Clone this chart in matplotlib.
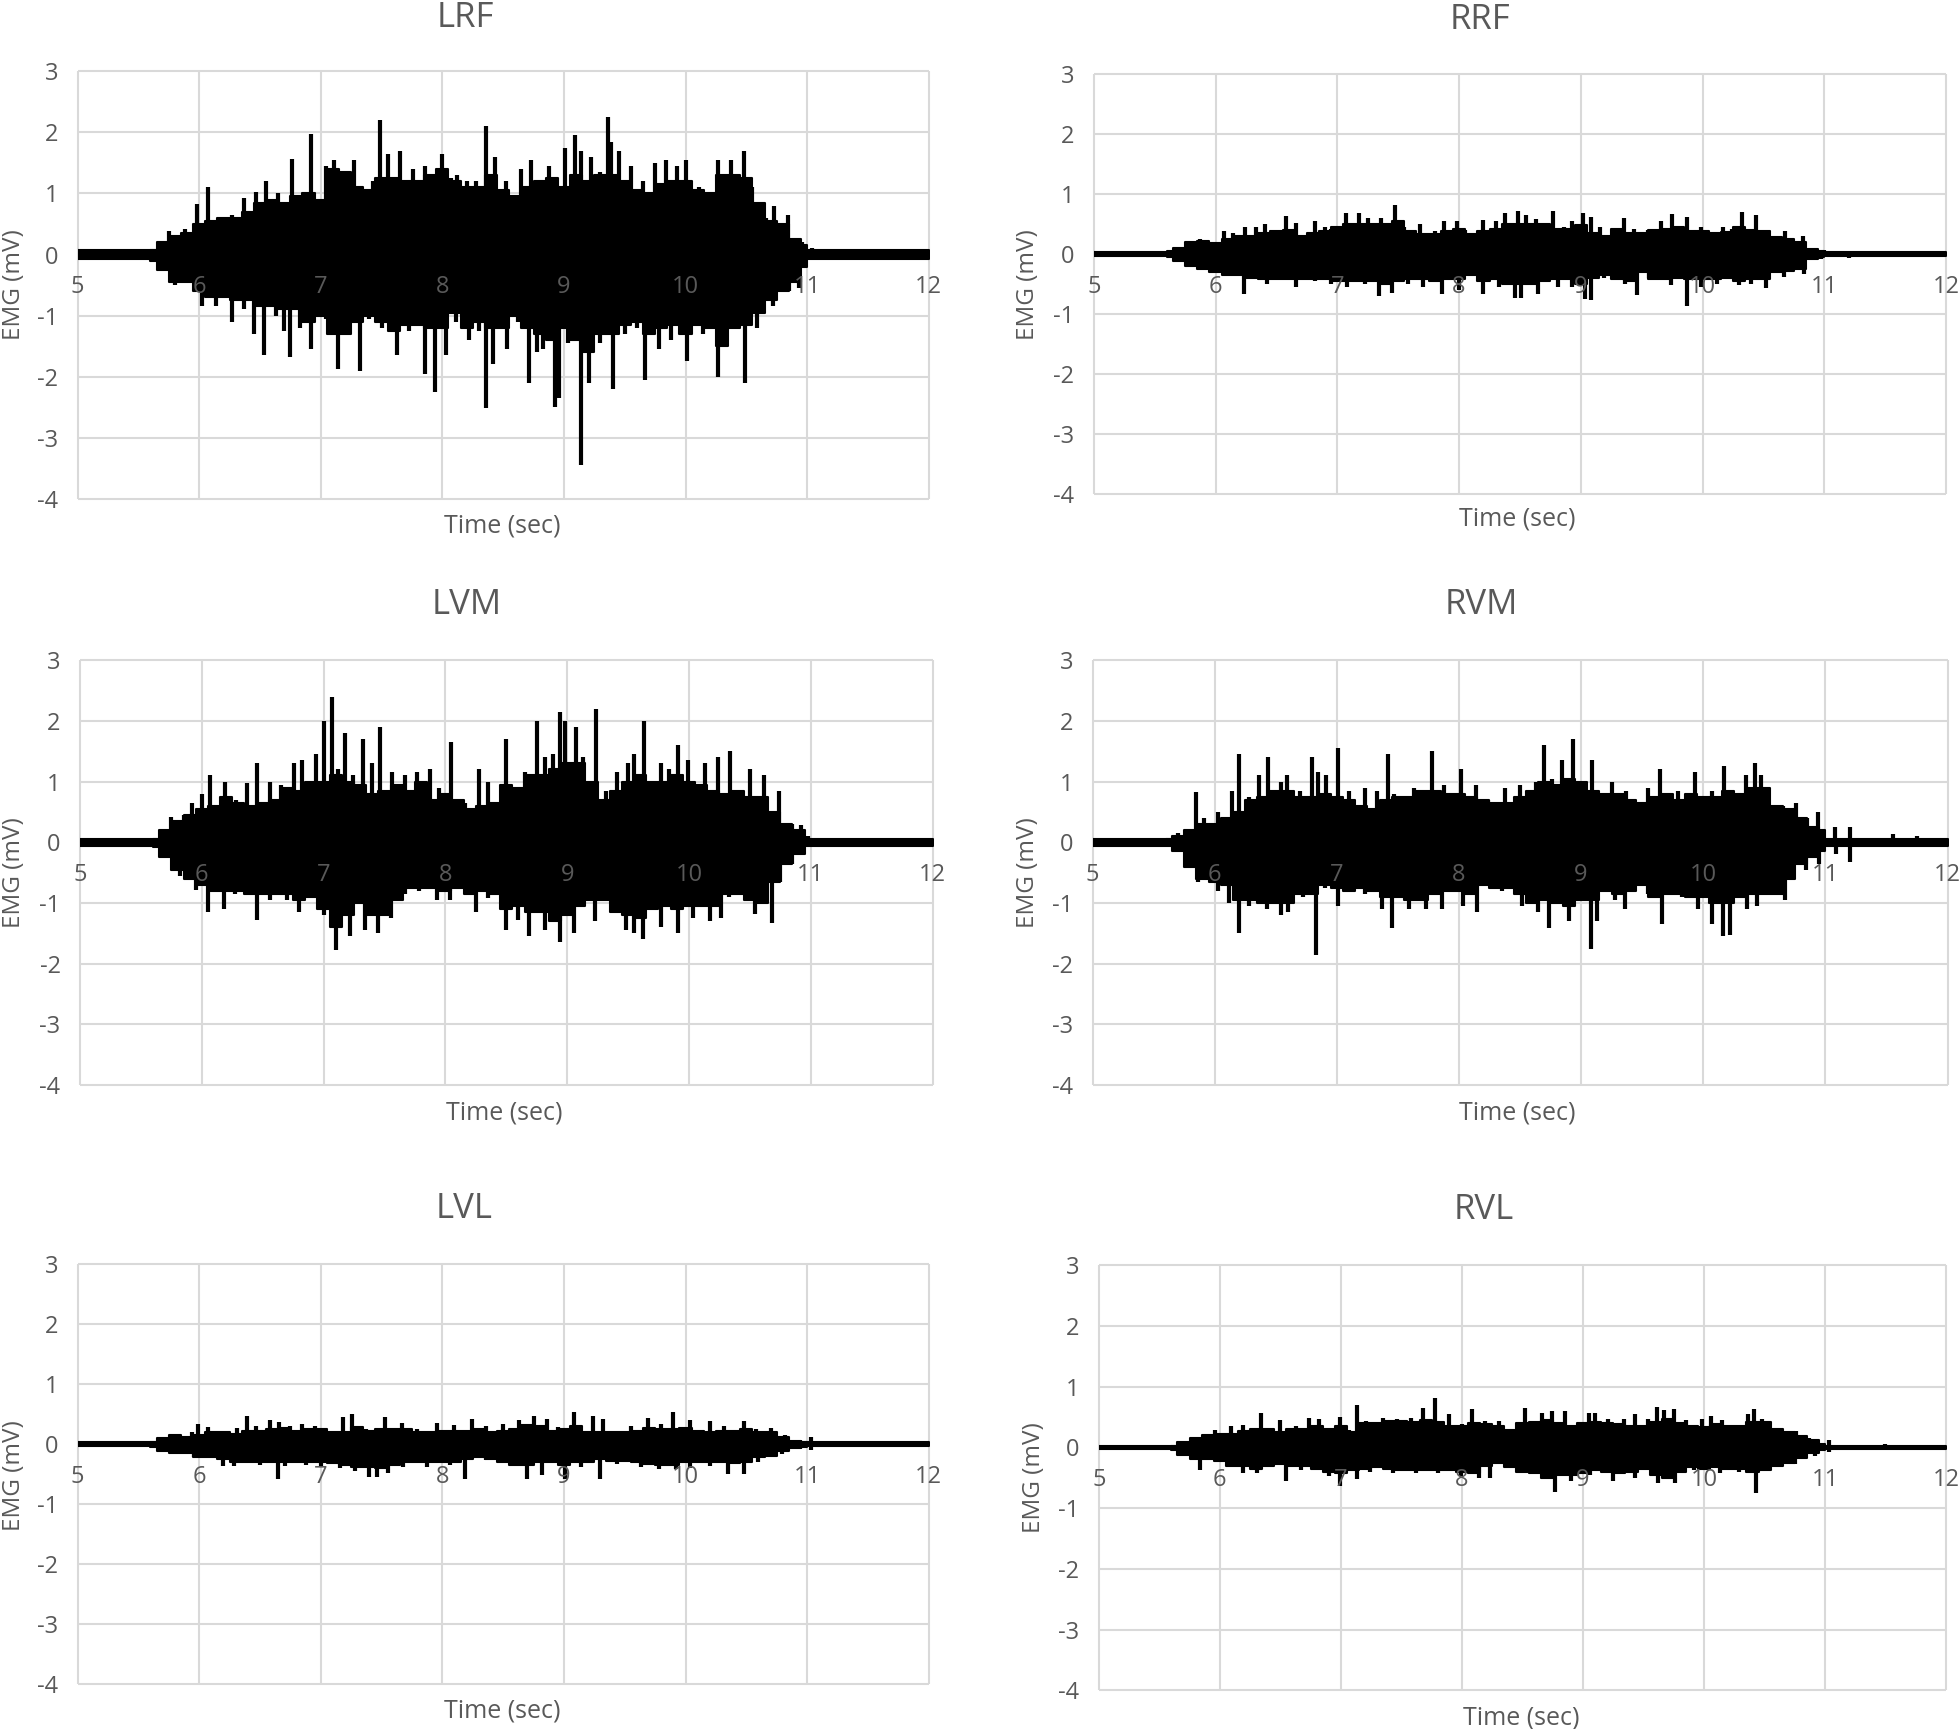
import numpy as np
import matplotlib
matplotlib.use("Agg")
import matplotlib.pyplot as plt

plt.rcParams['font.family'] = ['Open Sans', 'DejaVu Sans']

x_ticks = [5, 6, 7, 8, 9, 10, 11, 12]
y_ticks = [3, 2, 1, 0, -1, -2, -3, -4]
y_tick_labels = ['3', '2', '1', '0', '-1', '-2', '-3', '-4']
x_title = "Time (sec)"
y_title = "EMG (mV)"

# solid part of the trace is read every 0.1 s from 5.6 to 11.0
body_t = [5.6, 5.7, 5.8, 5.9, 6.0, 6.1, 6.2, 6.3, 6.4, 6.5,
          6.6, 6.7, 6.8, 6.9, 7.0, 7.1, 7.2, 7.3, 7.4, 7.5,
          7.6, 7.7, 7.8, 7.9, 8.0, 8.1, 8.2, 8.3, 8.4, 8.5,
          8.6, 8.7, 8.8, 8.9, 9.0, 9.1, 9.2, 9.3, 9.4, 9.5,
          9.6, 9.7, 9.8, 9.9, 10.0, 10.1, 10.2, 10.3, 10.4, 10.5,
          10.6, 10.7, 10.8, 10.9, 11.0]

# half height of the quiet trace before and after the burst
quiet = [.07, .03, .06, .06, .03, .025]

# spikes as (sec, mV)
lrf_up = [(5.75,.38),(5.88,.42),(5.98,.82),(6.07,1.1),(6.16,.6),(6.27,.65),(6.37,.92),(6.47,1.03),(6.55,1.2),(6.65,1.0),
          (6.76,1.57),(6.92,1.98),(7.04,1.45),(7.11,1.55),(7.18,1.3),(7.27,1.55),(7.43,1.2),(7.49,2.2),(7.55,1.65),(7.65,1.7),
          (7.76,1.4),(7.86,1.45),(8.0,1.65),(8.07,1.25),(8.12,1.3),(8.2,1.2),(8.28,1.2),(8.36,2.1),(8.43,1.6),(8.52,1.2),
          (8.65,1.4),(8.73,1.55),(8.88,1.45),(9.01,1.75),(9.09,1.95),(9.14,1.7),(9.22,1.6),(9.3,1.35),(9.36,2.25),(9.39,1.85),
          (9.45,1.7),(9.55,1.45),(9.65,1.2),(9.75,1.5),(9.84,1.55),(9.93,1.45),(10.0,1.55),(10.11,1.1),(10.27,1.55),(10.37,1.55),
          (10.48,1.7),(10.55,1.1),(10.6,.8),(10.66,.6),(10.73,.8),(10.84,.65),(10.96,.2),(11.04,.1)]
lrf_lo = [(5.8,-.5),(5.9,-.45),(6.02,-.85),(6.14,-.85),(6.27,-1.1),(6.37,-.9),(6.45,-1.3),(6.53,-1.65),(6.63,-1.0),(6.7,-1.25),
          (6.75,-1.68),(6.83,-1.2),(6.92,-1.55),(7.04,-1.05),(7.14,-1.87),(7.22,-1.15),(7.32,-1.9),(7.4,-1.05),(7.5,-1.2),(7.63,-1.65),
          (7.73,-1.25),(7.86,-1.95),(7.94,-2.25),(8.03,-1.65),(8.11,-1.1),(8.22,-1.4),(8.3,-1.25),(8.36,-2.52),(8.42,-1.8),(8.53,-1.55),
          (8.62,-1.1),(8.71,-2.1),(8.78,-1.6),(8.83,-1.55),(8.93,-2.5),(8.96,-2.35),(9.03,-1.45),(9.14,-3.45),(9.21,-2.1),(9.3,-1.45),
          (9.4,-2.2),(9.5,-1.3),(9.6,-1.2),(9.67,-2.05),(9.78,-1.55),(9.88,-1.4),(10.01,-1.75),(10.14,-1.3),(10.27,-2.0),(10.37,-1.2),
          (10.49,-2.1),(10.59,-1.2),(10.72,-.85),(10.85,-.6),(10.93,-.55)]
lrf_body_up = [.08, .2, .3, .35, .5, .55, .6, .6, .7, .85,
               .9, .85, .95, 1.0, .9, 1.4, 1.35, 1.1, 1.05, 1.25,
               1.25, 1.2, 1.2, 1.3, 1.4, 1.2, 1.1, 1.1, 1.3, 1.05,
               .95, 1.1, 1.2, 1.25, 1.1, 1.3, 1.2, 1.3, 1.3, 1.2,
               1.05, 1.0, 1.15, 1.2, 1.2, 1.05, 1.0, 1.3, 1.3, 1.25,
               .85, .55, .5, .25, .15]
lrf_body_lo = [-.1, -.25, -.45, -.45, -.6, -.7, -.7, -.75, -.75, -.85,
               -.85, -.9, -.9, -1.1, -1.0, -1.3, -1.3, -1.1, -1.0, -1.1,
               -1.25, -1.15, -1.15, -1.2, -1.2, -.95, -1.2, -1.1, -1.2, -1.2,
               -1.0, -1.2, -1.3, -1.4, -1.2, -1.4, -1.6, -1.3, -1.3, -1.15,
               -1.1, -1.3, -1.2, -1.15, -1.3, -1.15, -1.2, -1.5, -1.2, -1.15,
               -.95, -.75, -.6, -.45, -.2]

rrf_up = [(5.87,.25),(5.97,.2),(6.07,.38),(6.14,.35),(6.24,.45),(6.33,.45),(6.41,.5),(6.49,.3),(6.58,.63),(6.66,.52),
          (6.75,.3),(6.82,.55),(6.9,.45),(6.95,.42),(7.07,.68),(7.18,.68),(7.25,.6),(7.36,.6),(7.47,.82),(7.55,.45),
          (7.68,.5),(7.8,.38),(7.88,.55),(7.98,.55),(8.05,.4),(8.2,.57),(8.3,.55),(8.38,.68),(8.48,.72),(8.55,.65),
          (8.63,.58),(8.77,.72),(8.86,.45),(8.93,.55),(9.02,.68),(9.08,.62),(9.16,.45),(9.26,.3),(9.35,.6),(9.44,.42),
          (9.55,.4),(9.66,.55),(9.75,.67),(9.87,.62),(9.99,.45),(10.17,.45),(10.24,.42),(10.32,.7),(10.44,.65),(10.54,.4),
          (10.68,.38),(10.82,.3),(10.9,.1),(11.0,.07)]
rrf_lo = [(5.84,-.22),(6.07,-.35),(6.23,-.67),(6.32,-.4),(6.42,-.5),(6.52,-.4),(6.66,-.55),(6.82,-.45),(6.95,-.5),(7.08,-.55),
          (7.23,-.5),(7.34,-.7),(7.45,-.65),(7.58,-.5),(7.7,-.55),(7.86,-.67),(8.0,-.6),(8.2,-.67),(8.33,-.55),(8.46,-.73),
          (8.51,-.73),(8.65,-.67),(8.81,-.55),(8.93,-.55),(9.03,-.75),(9.08,-.77),(9.19,-.4),(9.36,-.5),(9.46,-.68),(9.56,-.4),
          (9.74,-.52),(9.87,-.87),(9.99,-.55),(10.12,-.5),(10.3,-.52),(10.4,-.5),(10.52,-.57),(10.67,-.38),(10.83,-.33),(10.97,-.08),
          (11.2,-.07)]
rrf_body_up = [.04, .1, .2, .22, .18, .25, .3, .3, .35, .38,
               .4, .3, .35, .38, .45, .5, .5, .5, .5, .55,
               .38, .33, .33, .38, .42, .33, .38, .42, .5, .5,
               .5, .5, .42, .42, .48, .35, .3, .42, .35, .35,
               .4, .42, .45, .38, .38, .35, .36, .45, .4, .38,
               .28, .25, .2, .08, .04]
rrf_body_lo = [-.05, -.12, -.2, -.25, -.3, -.35, -.35, -.4, -.42, -.42,
               -.42, -.42, -.42, -.42, -.45, -.45, -.45, -.45, -.5, -.45,
               -.42, -.42, -.45, -.42, -.42, -.35, -.45, -.42, -.5, -.5,
               -.5, -.45, -.42, -.42, -.5, -.4, -.35, -.42, -.45, -.3,
               -.42, -.42, -.4, -.42, -.42, -.42, -.4, -.45, -.42, -.42,
               -.3, -.28, -.25, -.08, -.05]

lvm_up = [(5.75,.42),(5.85,.45),(5.92,.65),(6.0,.8),(6.07,1.1),(6.19,1.0),(6.28,.7),(6.37,.98),(6.45,1.3),(6.56,1.0),
          (6.65,.95),(6.76,1.3),(6.82,1.35),(6.94,1.45),(7.0,2.0),(7.07,2.4),(7.12,1.2),(7.18,1.8),(7.24,1.1),(7.32,1.7),
          (7.4,1.3),(7.46,1.9),(7.56,1.15),(7.67,1.1),(7.77,1.15),(7.87,1.2),(7.95,.9),(8.05,1.65),(8.16,.65),(8.28,1.2),
          (8.35,1.0),(8.5,1.7),(8.65,1.15),(8.75,2.0),(8.82,1.4),(8.88,1.45),(8.94,2.15),(8.98,2.0),(9.07,1.9),(9.13,1.4),
          (9.24,2.2),(9.32,.85),(9.41,1.15),(9.5,1.3),(9.55,1.45),(9.63,2.0),(9.77,1.3),(9.84,1.2),(9.91,1.6),(9.99,1.35),
          (10.13,1.3),(10.24,1.4),(10.34,1.5),(10.44,.75),(10.5,1.2),(10.62,1.1),(10.74,.85),(10.85,.3),(10.92,.28),(10.98,.1)]
lvm_lo = [(5.82,-.55),(5.95,-.78),(6.05,-1.15),(6.18,-1.1),(6.27,-.85),(6.45,-1.28),(6.56,-.95),(6.7,-.95),(6.8,-1.15),(6.91,-.85),
          (7.0,-1.2),(7.1,-1.78),(7.22,-1.55),(7.34,-1.45),(7.45,-1.5),(7.55,-1.25),(7.67,-.85),(7.78,-.8),(7.93,-.95),(8.04,-.95),
          (8.25,-1.15),(8.35,-.92),(8.5,-1.45),(8.6,-1.28),(8.69,-1.55),(8.82,-1.45),(8.94,-1.65),(9.06,-1.5),(9.23,-1.3),(9.34,-.95),
          (9.48,-1.45),(9.55,-1.5),(9.62,-1.6),(9.77,-1.4),(9.91,-1.5),(10.03,-1.25),(10.17,-1.3),(10.26,-1.25),(10.33,-.9),(10.54,-1.18),
          (10.68,-1.33),(10.75,-.65),(10.85,-.35),(10.94,-.2)]
lvm_body_up = [.06, .2, .35, .45, .55, .6, .75, .65, .6, .65,
               .7, .9, .85, 1.0, 1.0, 1.1, 1.0, .95, .8, .85,
               .95, .85, 1.0, .7, .8, .7, .55, .6, .65, .95,
               .9, 1.1, 1.1, 1.2, 1.3, 1.3, 1.0, .7, .85, 1.0,
               1.1, 1.0, 1.0, 1.1, 1.0, .95, .85, .8, .85, .75,
               .75, .5, .3, .2, .05]
lvm_body_lo = [-.08, -.25, -.45, -.6, -.7, -.8, -.8, -.8, -.85, -.85,
               -.85, -.85, -.95, -.9, -1.1, -1.4, -1.2, -1.0, -1.2, -1.2,
               -.95, -.75, -.75, -.75, -.8, -.75, -.85, -.8, -.85, -1.1,
               -1.05, -1.15, -1.15, -1.3, -1.2, -1.05, -.95, -.95, -1.15, -1.2,
               -1.25, -1.1, -1.05, -1.1, -1.05, -1.05, -1.05, -.85, -.85, -.95,
               -1.0, -.65, -.35, -.2, -.05]

rvm_up = [(5.7,.15),(5.85,.83),(5.91,.4),(6.03,.5),(6.14,.85),(6.2,1.45),(6.28,.75),(6.36,1.1),(6.44,1.4),(6.54,1.0),
          (6.59,1.1),(6.7,.85),(6.8,1.4),(6.85,1.15),(6.91,1.1),(7.01,1.55),(7.1,.85),(7.23,.9),(7.33,.85),(7.42,1.45),
          (7.47,.8),(7.63,.9),(7.78,1.5),(7.88,.95),(8.02,1.2),(8.14,.95),(8.24,.7),(8.38,.9),(8.5,.95),(8.63,1.0),
          (8.7,1.6),(8.76,1.05),(8.84,1.35),(8.93,1.7),(9.09,1.35),(9.17,.8),(9.25,1.0),(9.37,.85),(9.55,.9),(9.65,1.2),
          (9.79,.85),(9.93,1.15),(10.07,.85),(10.17,1.25),(10.26,.8),(10.35,1.1),(10.42,1.3),(10.47,1.1),(10.65,.6),(10.76,.65),
          (10.85,.4),(10.94,.5),(11.08,.25),(11.2,.25),(11.55,.13),(11.75,.1)]
rvm_lo = [(5.67,-.1),(5.86,-.65),(5.93,-.6),(6.03,-.8),(6.12,-1.0),(6.2,-1.5),(6.28,-1.05),(6.43,-1.1),(6.54,-1.2),(6.6,-1.15),
          (6.72,-.9),(6.83,-1.85),(6.9,-.75),(7.01,-1.05),(7.23,-.85),(7.37,-1.1),(7.45,-1.42),(7.59,-1.1),(7.73,-1.1),(7.86,-1.1),
          (8.03,-1.05),(8.15,-1.15),(8.35,-.8),(8.52,-1.05),(8.65,-1.15),(8.74,-1.42),(8.9,-1.3),(9.08,-1.75),(9.13,-1.3),(9.28,-.95),
          (9.36,-1.1),(9.55,-.85),(9.66,-1.35),(9.83,-.9),(9.96,-1.1),(10.07,-1.35),(10.16,-1.55),(10.22,-1.53),(10.36,-1.1),(10.44,-1.05),
          (10.67,-.95),(10.84,-.45),(10.95,-.35),(11.09,-.2),(11.2,-.33)]
rvm_body_up = [.05, .1, .2, .3, .3, .4, .5, .7, .75, .85,
               .85, .75, .75, .8, .75, .7, .6, .55, .7, .75,
               .75, .85, .85, .8, .8, .75, .7, .65, .65, .75,
               .85, 1.0, .95, 1.05, 1.0, .85, .8, .8, .7, .65,
               .75, .8, .7, .8, .75, .75, .85, .8, .9, .9,
               .6, .55, .4, .25, .2]
rvm_body_lo = [-.05, -.15, -.4, -.6, -.65, -.7, -.95, -.95, -1.0, -1.0,
               -1.0, -.85, -.85, -.7, -.75, -.8, -.75, -.8, -.9, -.9,
               -.95, -.95, -.85, -.8, -.8, -.85, -.7, -.75, -.75, -.85,
               -1.0, -.95, -1.0, -1.05, -.95, -.95, -.8, -.85, -.8, -.7,
               -.9, -.85, -.85, -.9, -.9, -1.0, -1.0, -.9, -.85, -.85,
               -.85, -.6, -.35, -.25, -.15]

lvl_up = [(5.77,.15),(5.94,.2),(5.99,.33),(6.07,.28),(6.15,.2),(6.22,.22),(6.31,.27),(6.39,.47),(6.47,.3),(6.58,.4),
          (6.66,.37),(6.75,.3),(6.85,.33),(6.95,.3),(7.06,.2),(7.18,.45),(7.26,.5),(7.37,.25),(7.53,.45),(7.67,.35),
          (7.79,.25),(7.96,.35),(8.1,.32),(8.24,.42),(8.36,.3),(8.5,.33),(8.63,.4),(8.75,.47),(8.86,.42),(8.95,.28),
          (9.08,.53),(9.24,.47),(9.32,.42),(9.43,.22),(9.55,.3),(9.69,.43),(9.8,.33),(9.9,.53),(10.04,.4),(10.2,.38),
          (10.32,.3),(10.48,.38),(10.58,.25),(10.7,.27),(10.82,.15),(10.94,.07),(11.03,.12)]
lvl_lo = [(5.79,-.17),(5.96,-.22),(6.12,-.2),(6.2,-.37),(6.29,-.37),(6.41,-.28),(6.5,-.35),(6.65,-.58),(6.71,-.37),(6.88,-.35),
          (7.0,-.38),(7.16,-.4),(7.28,-.45),(7.4,-.55),(7.46,-.55),(7.55,-.48),(7.68,-.38),(7.87,-.38),(8.06,-.35),(8.19,-.58),
          (8.36,-.27),(8.57,-.35),(8.7,-.58),(8.82,-.52),(9.01,-.58),(9.14,-.38),(9.3,-.58),(9.44,-.33),(9.63,-.38),(9.78,-.42),
          (9.92,-.42),(10.04,-.4),(10.2,-.37),(10.35,-.5),(10.48,-.5),(10.6,-.3),(10.79,-.17),(10.94,-.08),(11.03,-.1)]
lvl_body_up = [.03, .1, .15, .12, .15, .2, .2, .17, .22, .22,
               .25, .27, .22, .25, .25, .2, .2, .28, .22, .25,
               .25, .25, .2, .2, .22, .22, .22, .25, .2, .22,
               .25, .32, .3, .22, .25, .3, .2, .2, .2, .2,
               .22, .27, .25, .25, .27, .22, .2, .22, .22, .25,
               .2, .2, .12, .05, .04]
lvl_body_lo = [-.05, -.12, -.15, -.15, -.22, -.22, -.25, -.3, -.3, -.3,
               -.3, -.3, -.3, -.3, -.3, -.32, -.35, -.38, -.38, -.4,
               -.35, -.3, -.3, -.3, -.3, -.3, -.25, -.22, -.25, -.3,
               -.35, -.35, -.3, -.3, -.35, -.3, -.3, -.25, -.28, -.28,
               -.3, -.33, -.35, -.35, -.3, -.3, -.3, -.3, -.32, -.3,
               -.22, -.2, -.12, -.06, -.05]

rvl_up = [(5.8,.12),(5.96,.28),(6.09,.35),(6.19,.37),(6.28,.28),(6.34,.57),(6.42,.22),(6.5,.45),(6.63,.35),(6.74,.48),
          (6.82,.47),(6.9,.32),(6.99,.5),(7.07,.28),(7.13,.7),(7.21,.43),(7.35,.48),(7.46,.47),(7.58,.48),(7.68,.65),
          (7.78,.82),(7.89,.55),(8.0,.38),(8.08,.63),(8.19,.43),(8.31,.43),(8.41,.25),(8.52,.65),(8.66,.57),(8.74,.6),
          (8.85,.6),(8.95,.37),(9.05,.57),(9.1,.57),(9.21,.47),(9.34,.47),(9.43,.55),(9.54,.47),(9.61,.67),(9.67,.62),
          (9.75,.63),(9.85,.45),(9.98,.47),(10.06,.52),(10.15,.45),(10.36,.55),(10.41,.63),(10.48,.47),(10.59,.3),(10.76,.27),
          (10.87,.15),(11.03,.12),(11.49,.05)]
rvl_lo = [(5.75,-.15),(5.84,-.37),(5.96,-.2),(6.1,-.3),(6.19,-.43),(6.31,-.42),(6.44,-.25),(6.55,-.55),(6.67,-.37),(6.79,-.3),
          (6.9,-.47),(6.99,-.63),(7.13,-.52),(7.24,-.4),(7.43,-.43),(7.62,-.43),(7.8,-.42),(7.99,-.47),(8.14,-.5),(8.23,-.5),
          (8.41,-.27),(8.55,-.37),(8.67,-.52),(8.77,-.73),(8.9,-.55),(9.06,-.45),(9.25,-.55),(9.43,-.5),(9.62,-.58),(9.76,-.58),
          (9.92,-.37),(10.13,-.42),(10.29,-.4),(10.43,-.75),(10.52,-.37),(10.75,-.27),(10.92,-.15),(11.03,-.08)]
rvl_body_up = [.03, .08, .15, .2, .22, .22, .27, .3, .3, .25,
               .3, .3, .35, .3, .35, .25, .4, .4, .43, .43,
               .42, .45, .42, .35, .35, .4, .38, .35, .28, .4,
               .42, .45, .4, .35, .4, .42, .4, .38, .35, .35,
               .42, .47, .4, .35, .33, .38, .35, .35, .42, .42,
               .3, .25, .18, .12, .06]
rvl_body_lo = [-.05, -.12, -.2, -.2, -.22, -.3, -.3, -.35, -.3, -.28,
               -.3, -.3, -.35, -.4, -.42, -.38, -.35, -.32, -.35, -.38,
               -.38, -.38, -.37, -.38, -.4, -.42, -.3, -.25, -.32, -.4,
               -.42, -.5, -.45, -.45, -.42, -.38, -.4, -.42, -.4, -.35,
               -.45, -.5, -.4, -.32, -.35, -.32, -.35, -.35, -.4, -.38,
               -.3, -.25, -.18, -.1, -.05]

names = ["LRF", "RRF", "LVM", "RVM", "LVL", "RVL"]
ups = [lrf_up, rrf_up, lvm_up, rvm_up, lvl_up, rvl_up]
los = [lrf_lo, rrf_lo, lvm_lo, rvm_lo, lvl_lo, rvl_lo]
body_ups = [lrf_body_up, rrf_body_up, lvm_body_up, rvm_body_up, lvl_body_up, rvl_body_up]
body_los = [lrf_body_lo, rrf_body_lo, lvm_body_lo, rvm_body_lo, lvl_body_lo, rvl_body_lo]

# panel box and text places, in the pixels of the 1568 wide view
boxes = [(62, 743, 57, 399), (875, 1557, 59, 395), (64, 746, 528, 868),
         (874, 1558, 528, 868), (62, 743, 1011, 1347), (879, 1557, 1012, 1352)]
title_xy = [(372, 14), (1184, 16), (373, 484), (1185, 484), (371, 967), (1187, 968)]
xlabel_xy = [(402, 421), (1214, 415), (403, 890), (1214, 890), (402, 1369), (1217, 1374)]
ylabel_xy = [(11, 228), (822, 228), (11, 698), (822, 698), (11, 1180), (827, 1182)]

W, H = 1568.0, 1383.0
GRID = '#d9d9d9'
TXT = '#595959'

fig = plt.figure(figsize=(19.6, 17.29), dpi=100, facecolor='white')

for i in range(6):
    x0, x1, y0, y1 = boxes[i]
    ax = fig.add_axes([x0 / W, 1 - y1 / H, (x1 - x0) / W, (y1 - y0) / H])
    ax.set_xlim(5, 12)
    ax.set_ylim(-4, 3)
    for s in ax.spines.values():
        s.set_visible(False)
    ax.spines['bottom'].set_position(('data', 0))
    ax.hlines(y_ticks, 5, 12, color=GRID, lw=1.5, zorder=0, clip_on=False)
    ax.vlines(x_ticks, -4, 3, color=GRID, lw=1.5, zorder=0, clip_on=False)

    ax.fill_between([5, 12], -quiet[i], quiet[i], color='black', lw=1.5, zorder=1)
    ax.fill_between(body_t, body_los[i], body_ups[i], step='mid', color='black', lw=1.5, zorder=1)
    t_up, v_up = zip(*ups[i])
    t_lo, v_lo = zip(*los[i])
    ax.vlines(t_up, 0, v_up, color='black', lw=3.0, zorder=1)
    ax.vlines(t_lo, 0, v_lo, color='black', lw=3.0, zorder=1)

    ax.set_xticks(x_ticks)
    ax.set_yticks(y_ticks)
    ax.set_yticklabels(y_tick_labels)
    ax.tick_params(axis='x', length=0, pad=15, labelsize=17, labelcolor=TXT)
    ax.tick_params(axis='y', length=0, pad=14, labelsize=17, labelcolor=TXT)

    fig.text(title_xy[i][0] / W, 1 - title_xy[i][1] / H, names[i], fontsize=25, color=TXT, ha='center', va='center')
    fig.text(xlabel_xy[i][0] / W, 1 - xlabel_xy[i][1] / H, x_title, fontsize=18, color=TXT, ha='center', va='center')
    fig.text(ylabel_xy[i][0] / W, 1 - ylabel_xy[i][1] / H, y_title, fontsize=17.5, color=TXT, ha='center', va='center', rotation=90)

fig.savefig("out.png", dpi=100)
